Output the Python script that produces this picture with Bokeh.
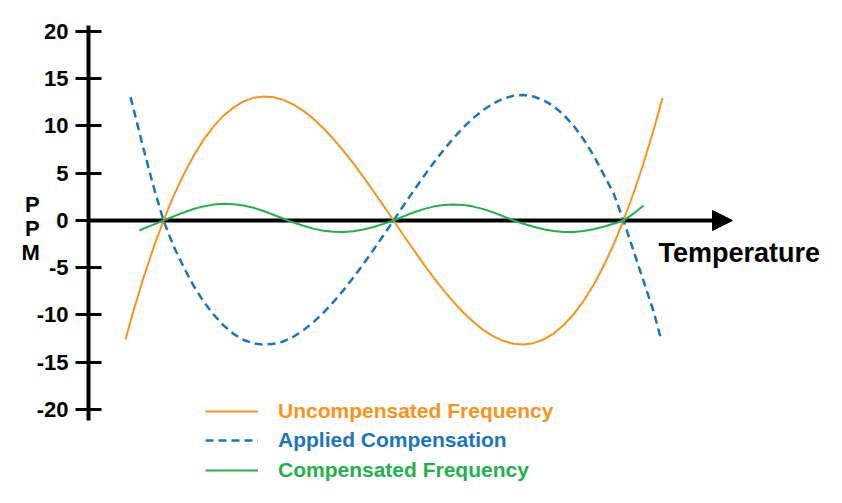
from bokeh.plotting import figure
from bokeh.models import (Range1d, FixedTicker, Arrow, NormalHead, Label,
                          Legend, LegendItem)
from bokeh.embed import file_html
from bokeh.resources import INLINE

# ---------------- data ----------------
y_ticks = [-20, -15, -10, -5, 0, 5, 10, 15, 20]
y_tick_labels = ["-20", "-15", "-10", "-5", "0", "5", "10", "15", "20"]

temp_uncomp = [-42, -40, -37.5, -35, -32.5, -30, -27.5, -25, -22.5, -20, -17.5, -15, -12.5,
               -10, -7.5, -5, -2.5, 0, 2.5, 5, 7.5, 10, 12.5, 15, 17.5, 20, 22.5, 25, 27.5,
               30, 32.5, 35, 37.5, 40, 42.5, 45, 47.5, 50, 52.5, 55, 57.5, 60, 62.5, 65,
               67.5, 70, 72.5, 75, 77.5, 80, 82.5, 85, 87.5, 90, 92.25]
ppm_uncomp = [-12.59, -9.55, -6.06, -2.88, 0.0, 2.57, 4.84, 6.83, 8.53, 9.94, 11.09, 11.97,
              12.6, 12.98, 13.13, 13.05, 12.76, 12.27, 11.6, 10.75, 9.76, 8.62, 7.37, 6.02,
              4.59, 3.09, 1.56, 0.0, -1.56, -3.09, -4.59, -6.02, -7.37, -8.62, -9.76,
              -10.75, -11.6, -12.27, -12.76, -13.05, -13.13, -12.98, -12.6, -11.97, -11.09,
              -9.94, -8.53, -6.83, -4.84, -2.57, 0.0, 2.88, 6.06, 9.55, 12.95]

temp_applied = [-40.75, -40, -37.5, -35, -32.5, -30, -27.5, -25, -22.5, -20, -17.5, -15,
                -12.5, -10, -7.5, -5, -2.5, 0, 2.5, 5, 7.5, 10, 12.5, 15, 17.5, 20, 22.5,
                25, 27.5, 30, 32.5, 35, 37.5, 40, 42.5, 45, 47.5, 50, 52.5, 55, 57.5, 60,
                62.5, 65, 67.5, 70, 72.5, 75, 77.5, 80, 82.5, 85, 87.5, 90, 91.75]
ppm_applied = [13.05, 11.8, 7.6, 3.6, 0.0, -2.7, -4.9, -6.9, -8.55, -9.95, -11.1, -12.0,
               -12.65, -13.0, -13.15, -13.05, -12.8, -12.3, -11.6, -10.75, -9.76, -8.62,
               -7.37, -6.02, -4.59, -3.09, -1.56, 0.0, 1.58, 3.12, 4.64, 6.08, 7.45, 8.71,
               9.86, 10.86, 11.72, 12.4, 12.9, 13.2, 13.28, 13.12, 12.73, 12.1, 11.2,
               10.05, 8.6, 6.9, 4.9, 2.9, 0.0, -3.2, -6.4, -9.6, -12.35]

temp_comp = [-38.5, -37.5, -35, -32.5, -30, -27.5, -25, -22.5, -20, -17.5, -15, -12.5,
             -10, -7.5, -5, -2.5, 0, 2.5, 5, 7.5, 10, 12.5, 15, 17.5, 20, 22.5, 25, 27.5,
             30, 32.5, 35, 37.5, 40, 42.5, 45, 47.5, 50, 52.5, 55, 57.5, 60, 62.5, 65,
             67.5, 70, 72.5, 75, 77.5, 80, 82.5, 85, 87.5]
ppm_comp = [-1.06, -0.85, -0.44, 0.0, 0.44, 0.85, 1.21, 1.49, 1.68, 1.76, 1.72, 1.58,
            1.34, 1.01, 0.61, 0.18, -0.22, -0.56, -0.86, -1.08, -1.2, -1.23, -1.14, -0.96,
            -0.69, -0.36, 0.0, 0.44, 0.85, 1.2, 1.47, 1.64, 1.7, 1.64, 1.47, 1.2, 0.85,
            0.44, 0.0, -0.35, -0.66, -0.93, -1.12, -1.22, -1.22, -1.12, -0.93, -0.66,
            -0.35, 0.0, 0.72, 1.59]

series_names = ["Uncompensated Frequency", "Applied Compensation", "Compensated Frequency"]
y_label = "P\nP\nM\n \n "
x_label = "Temperature"

ORANGE = "#F7941D"
BLUE = "#1C75BC"
GREEN = "#22B14C"
FONT = "Liberation Sans"

# ---------------- figure ----------------
p = figure(width=842, height=503, output_backend="svg", toolbar_location=None,
           x_range=Range1d(-51.25, 137.25), y_range=Range1d(-29.95, 23.28),
           x_axis_location=None, min_border_left=88, min_border_right=0,
           min_border_top=0, min_border_bottom=0)
p.outline_line_color = None
p.grid.visible = False
p.background_fill_color = "white"
p.border_fill_color = "white"

ya = p.yaxis[0]
ya.ticker = FixedTicker(ticks=y_ticks)
ya.major_label_overrides = dict(zip(y_ticks, y_tick_labels))
ya.bounds = (-21.2, 20.6)
ya.axis_line_width = 4
ya.axis_line_color = "black"
ya.major_tick_line_width = 3
ya.major_tick_line_color = "black"
ya.major_tick_in = 13
ya.major_tick_out = 13
ya.minor_tick_line_color = None
ya.major_label_text_font = FONT
ya.major_label_text_font_style = "bold"
ya.major_label_text_font_size = "22px"
ya.major_label_text_color = "black"
ya.major_label_standoff = 7
ya.axis_label = y_label
ya.axis_label_orientation = "horizontal"
ya.axis_label_standoff = -6
ya.axis_label_text_font = FONT
ya.axis_label_text_font_style = "bold"
ya.axis_label_text_font_size = "22px"
ya.axis_label_text_color = "black"
ya.axis_label_text_line_height = 0.95

# horizontal temperature axis as an arrow through zero
arrow = Arrow(end=NormalHead(size=20, fill_color="black", line_color="black"),
              x_start=-51.25, y_start=0, x_end=109.75, y_end=0,
              line_width=4, line_color="black", level="underlay")
p.add_layout(arrow)

r_unc = p.line(temp_uncomp, ppm_uncomp, line_color=ORANGE, line_width=2)
r_app = p.line(temp_applied, ppm_applied, line_color=BLUE, line_width=2.5, line_dash="8 5")
r_cmp = p.line(temp_comp, ppm_comp, line_color=GREEN, line_width=2)

p.add_layout(Label(x=91.25, y=-3.4, text=x_label, text_font=FONT, text_font_style="bold",
                   text_font_size="27px", text_color="black", text_baseline="middle",
                   text_align="left"))

# legends, one per series so each label gets its own colour
for name, rend, col, yloc in zip(series_names, [r_unc, r_app, r_cmp],
                                 [ORANGE, BLUE, GREEN], [80, 51, 21]):
    lg = Legend(items=[LegendItem(label=name, renderers=[rend])], location=(117, yloc),
                orientation="vertical", padding=0, margin=0, spacing=0,
                glyph_width=53, glyph_height=24, label_height=24, label_standoff=20,
                label_text_font=FONT, label_text_font_style="bold",
                label_text_font_size="21px", label_text_color=col,
                label_text_baseline="middle", border_line_color=None,
                background_fill_alpha=0)
    p.add_layout(lg, "center")

open("out.html", "w").write(file_html(p, INLINE))
